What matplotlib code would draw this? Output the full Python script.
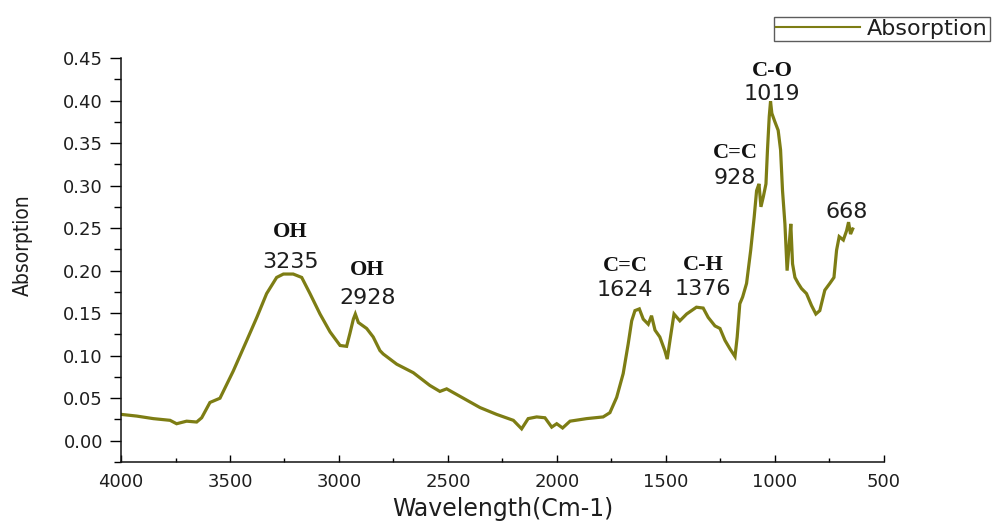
import matplotlib
matplotlib.use("Agg")
import matplotlib.pyplot as plt
from matplotlib import font_manager
from matplotlib.ticker import MultipleLocator

# ---------------- data ----------------
wavenumber = [4000, 3928, 3852, 3775, 3745, 3699, 3653, 3630, 3592, 3546,
              3485, 3423, 3377, 3332, 3286, 3255, 3210, 3171, 3133, 3087,
              3041, 2995, 2965, 2950, 2934, 2925, 2911, 2873, 2843, 2812,
              2797, 2735, 2659, 2583, 2537, 2506, 2353, 2277, 2200, 2162,
              2132, 2093, 2055, 2024, 2001, 1974, 1940, 1864, 1788, 1757,
              1726, 1696, 1673, 1657, 1642, 1622, 1604, 1581, 1566, 1550,
              1528, 1505, 1494, 1479, 1463, 1436, 1405, 1360, 1329, 1306,
              1275, 1252, 1229, 1206, 1183, 1173, 1161, 1148, 1130, 1111,
              1095, 1084, 1073, 1064, 1053, 1041, 1034, 1026, 1020, 1014,
              1000, 985, 974, 965, 954, 944, 934, 927, 919, 908,
              893, 878, 855, 832, 812, 794, 771, 748, 729, 717,
              705, 686, 671, 662, 653, 643]
absorption = [0.031, 0.029, 0.026, 0.024, 0.020, 0.023, 0.022, 0.027, 0.045, 0.050,
              0.082, 0.118, 0.145, 0.173, 0.192, 0.196, 0.196, 0.192, 0.173, 0.149,
              0.128, 0.112, 0.111, 0.126, 0.143, 0.149, 0.139, 0.132, 0.122, 0.106,
              0.102, 0.090, 0.080, 0.065, 0.058, 0.061, 0.039, 0.031, 0.024, 0.014,
              0.026, 0.028, 0.027, 0.016, 0.020, 0.015, 0.023, 0.026, 0.028, 0.033,
              0.051, 0.079, 0.114, 0.141, 0.153, 0.155, 0.143, 0.137, 0.147, 0.130,
              0.122, 0.106, 0.096, 0.122, 0.149, 0.141, 0.149, 0.157, 0.156, 0.145,
              0.135, 0.132, 0.118, 0.108, 0.099, 0.122, 0.161, 0.169, 0.185, 0.224,
              0.263, 0.294, 0.302, 0.275, 0.287, 0.302, 0.342, 0.381, 0.399, 0.385,
              0.375, 0.365, 0.342, 0.294, 0.255, 0.200, 0.232, 0.255, 0.208, 0.192,
              0.185, 0.179, 0.173, 0.159, 0.149, 0.153, 0.177, 0.185, 0.192, 0.224,
              0.240, 0.236, 0.247, 0.257, 0.243, 0.249]

# peak annotations
peak_groups = ["OH", "OH", "C=C", "C-H", "C=C", "C-O", ""]
peak_numbers = ["3235", "2928", "1624", "1376", "928", "1019", "668"]
label_x = [3222, 2870, 1688, 1329, 1183, 1012, 671]
group_y = [0.245, 0.201, 0.205, 0.207, 0.338, 0.435, None]
number_y = [0.210, 0.168, 0.177, 0.178, 0.309, 0.408, 0.269]

x_ticks = [4000, 3500, 3000, 2500, 2000, 1500, 1000, 500]
y_ticks = [0.00, 0.05, 0.10, 0.15, 0.20, 0.25, 0.30, 0.35, 0.40, 0.45]

# ---------------- fonts ----------------
fonts = font_manager.fontManager.ttflist
available = {f.name for f in fonts}
condensed = [f.name for f in fonts
             if f.stretch in ("condensed", "semi-condensed", "extra-condensed")
             or "Narrow" in f.name or "Condensed" in f.name]
serif = "Liberation Serif" if "Liberation Serif" in available else "DejaVu Serif"
if condensed:
    ylab_family, ylab_size, ylab_stretch = condensed[0], 15, "condensed"
else:
    ylab_family = "Liberation Sans" if "Liberation Sans" in available else "DejaVu Sans"
    ylab_size, ylab_stretch = 14, "normal"
plt.rcParams["font.family"] = ["DejaVu Sans"]

line_color = "#7d7d14"
text_color = "#1e1e1e"

fig = plt.figure(figsize=(9.92, 5.25), dpi=100)
ax = fig.add_axes([0.122, 0.12, 0.769, 0.7695])

ax.plot(wavenumber, absorption, color=line_color, lw=2.3, label="Absorption",
        solid_joinstyle="miter")

ax.set_xlim(4000, 500)
ax.set_ylim(-0.025, 0.45)
ax.set_xticks(x_ticks)
ax.set_yticks(y_ticks)
ax.set_yticklabels([f"{v:.2f}" for v in y_ticks])
ax.xaxis.set_minor_locator(MultipleLocator(250))
ax.yaxis.set_minor_locator(MultipleLocator(0.025))

for s in ["top", "right"]:
    ax.spines[s].set_visible(False)
for s in ["left", "bottom"]:
    ax.spines[s].set_linewidth(1.1)
    ax.spines[s].set_color("#111111")

ax.tick_params(axis="y", which="major", direction="out", length=8, width=1.0,
               pad=5, labelsize=13, labelcolor=text_color)
ax.tick_params(axis="y", which="minor", direction="out", length=5, width=1.0)
ax.tick_params(axis="x", which="major", direction="in", length=5, width=1.0,
               pad=8, labelsize=13, labelcolor=text_color)
ax.tick_params(axis="x", which="minor", direction="in", length=3, width=1.0)

ax.set_xlabel("Wavelength(Cm-1)", fontsize=17, color=text_color, labelpad=4)
ax.set_ylabel("Absorption", fontsize=ylab_size, family=ylab_family,
              fontstretch=ylab_stretch, color=text_color)
ax.yaxis.set_label_coords(-0.115, 0.537)

for g, n, x, gy, ny in zip(peak_groups, peak_numbers, label_x, group_y, number_y):
    if g:
        ax.text(x, gy, g, ha="center", va="center", fontsize=16,
                family=serif, fontweight="bold", color="#111111")
    ax.text(x, ny, n, ha="center", va="center", fontsize=16, color=text_color)

leg = fig.legend(loc="upper right", bbox_to_anchor=(0.998, 0.968),
                 fontsize=16, frameon=True, fancybox=False, borderpad=0.1,
                 handlelength=3.8, handletextpad=0.3, borderaxespad=0)
leg.get_frame().set_edgecolor("#333333")
leg.get_frame().set_linewidth(1.0)
for h in leg.legend_handles:
    h.set_linewidth(1.5)
for t in leg.get_texts():
    t.set_color(text_color)

fig.savefig("out.png", dpi=100)
